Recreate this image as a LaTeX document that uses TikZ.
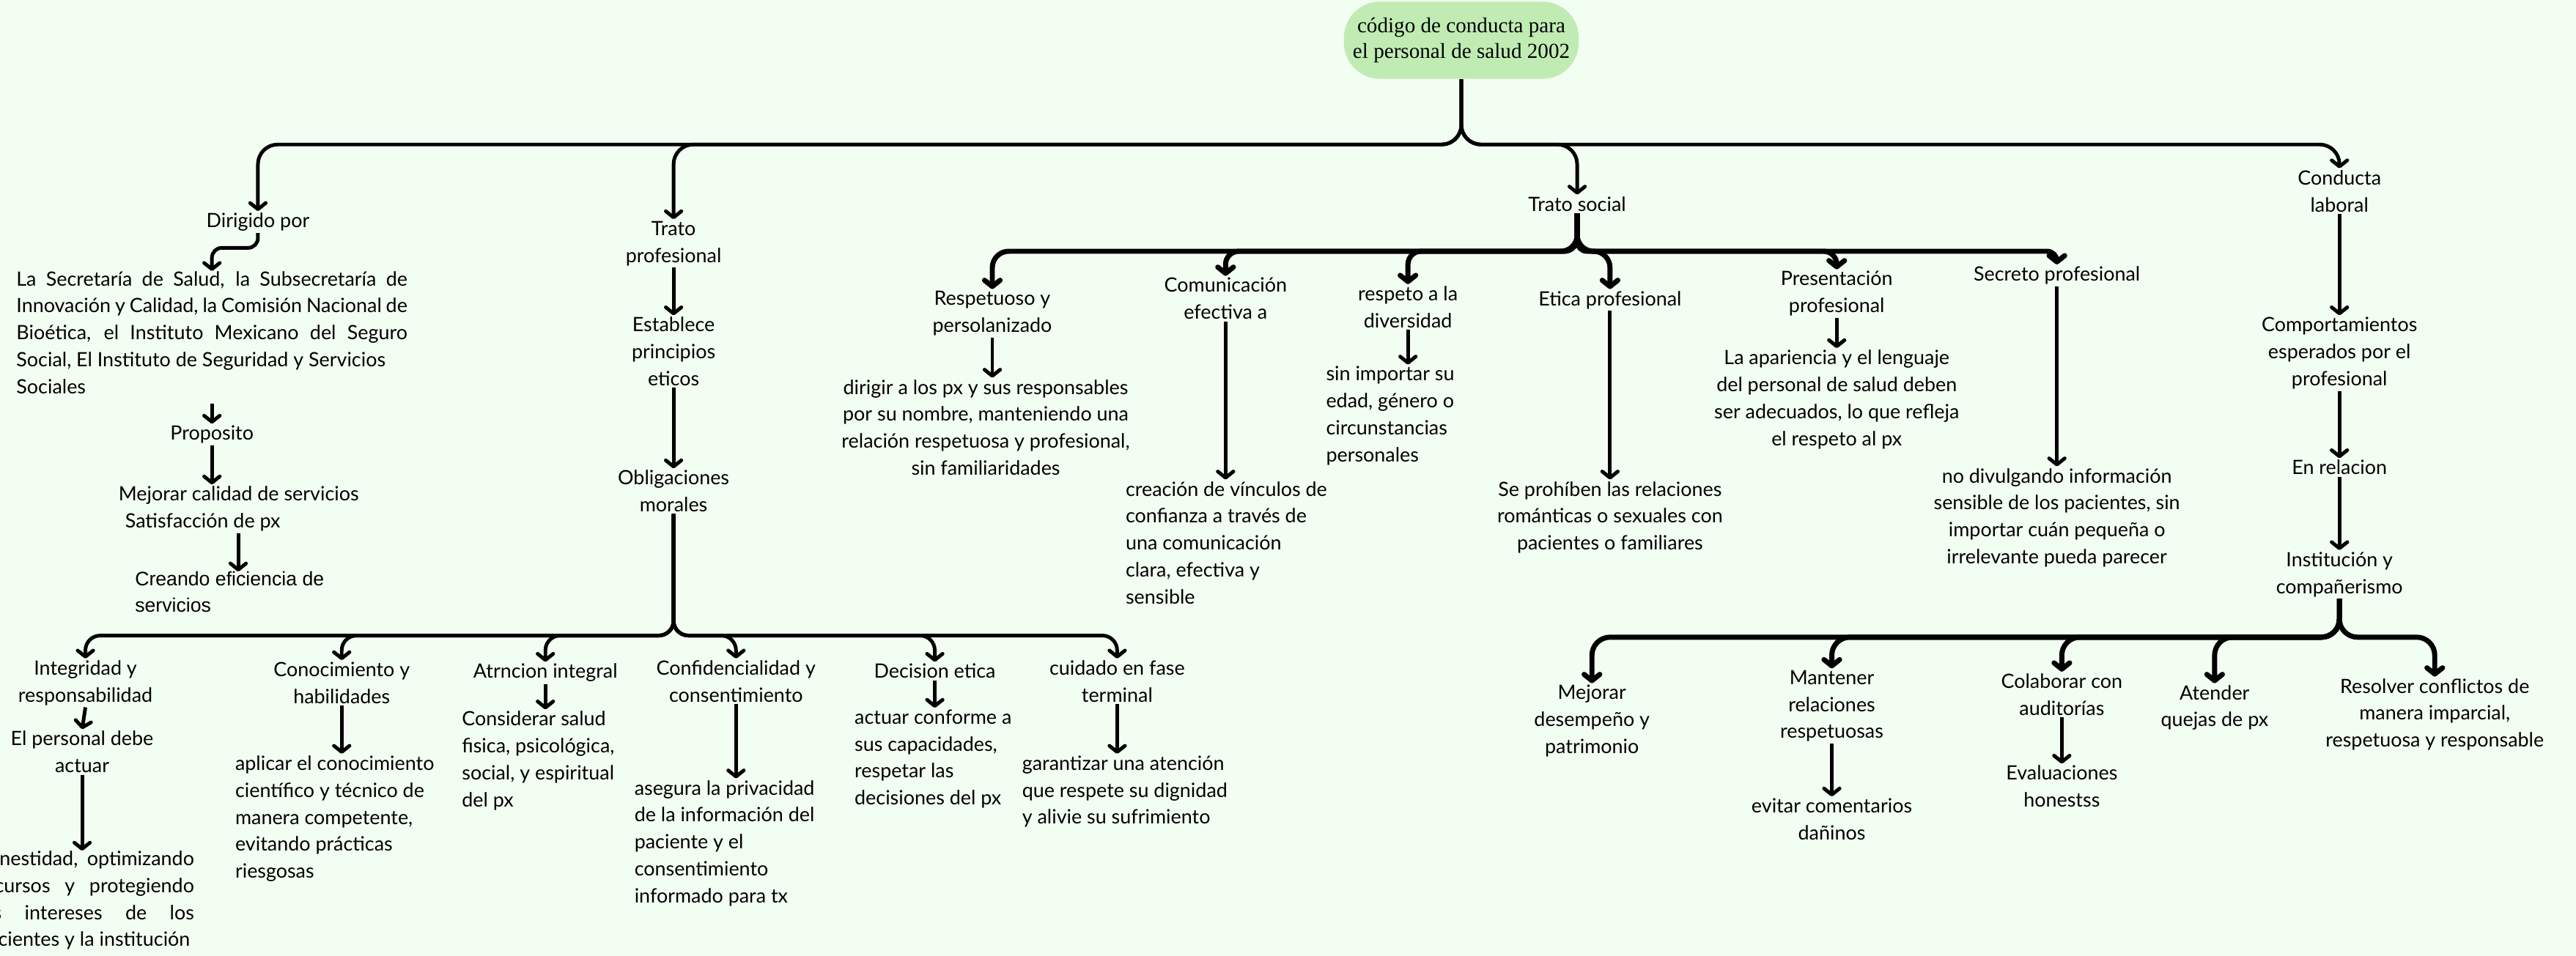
\documentclass[tikz,border=0pt]{standalone}
\usepackage{fontspec}
\setmainfont{Lato}
\newfontfamily\titlefont{Liberation Serif}
\newfontfamily\arialfont{Liberation Sans}
\usetikzlibrary{arrows.meta}
\definecolor{bgc}{HTML}{F3FEF2}
\definecolor{titlec}{HTML}{C0ECB3}
\newcommand\bodyf{\fontsize{12}{16.4}\selectfont}
\tikzset{
  lbl/.style={font=\bodyf, inner sep=1pt, align=center, anchor=north},
  lblock/.style={font=\bodyf, inner sep=1pt, align=left, anchor=north west},
  link/.style={line width=2.2pt, -{Straight Barb[length=3.8pt,width=9.5pt,round]}},
  thick link/.style={link, line width=3.1pt}
}
\begin{document}
\begin{tikzpicture}[x=1pt,y=-1pt]
\fill[bgc] (0,0) rectangle (1568,582);
\useasboundingbox (0,0) rectangle (1568,582);
\coordinate (h1) at (0,88);
\coordinate (h2) at (0,153);
\coordinate (h3) at (0,387);
\coordinate (h4) at (0,388);

% title
\node[fill=titlec, rounded corners=22pt, minimum width=143pt, minimum height=47pt,
      font=\titlefont\fontsize{13}{15.6}\selectfont, align=center, inner sep=0pt]
  (title) at (889.5,24.5) {código de conducta para\\el personal de salud 2002};

% level 1
\node[lbl] (dir) at (157,128.5) {Dirigido por};
\node[lbl] (tp) at (410,133.5) {Trato\\profesional};
\node[lbl] (ts) at (960,118.5) {Trato social};
\node[lbl] (cl) at (1424,102.5) {Conducta\\laboral};

\draw[link, rounded corners=12pt] (title.south) -- (title.south |- h1) -| (dir.north);
\draw[link, rounded corners=12pt] (title.south) -- (title.south |- h1) -| (tp.north);
\draw[link, rounded corners=12pt] (title.south) -- (title.south |- h1) -| (ts.north);
\draw[link, rounded corners=12pt] (title.south) -- (title.south |- h1) -| (cl.north);

% Dirigido por
\node[font=\bodyf, text width=238pt, align=justify, inner sep=0pt, anchor=north] (blk) at (129,165)
 {La Secretaría de Salud, la Subsecretaría de\linebreak Innovación y Calidad, la Comisión Nacional de\linebreak Bioética, el Instituto Mexicano del Seguro\linebreak Social, El Instituto de Seguridad y Servicios\\Sociales};
\draw[link, rounded corners=6pt] (dir.south) -- ++(0,9) -| (blk.north);
\node[lbl] (prop) at (129,258) {Proposito};
\draw[link] ([yshift=-6pt]blk.south) -- (prop.north);
\node[lblock] (mej) at (71,295) {Mejorar calidad de servicios\\\hspace*{4pt}Satisfacción de px};
\draw[link] (prop.south) -- (prop.south |- mej.north);
\node[font=\arialfont\fontsize{11.9}{15.8}\selectfont, align=left, inner sep=0pt, anchor=north west] (cre) at (82,348)
 {Creando eficiencia de\\servicios};
\coordinate (a1) at (145,0);
\draw[link] (mej.south -| a1) -- (cre.north -| a1);

% Trato profesional
\node[lbl] (est) at (410,192) {Establece\\principios\\eticos};
\node[lbl] (obl) at (410,285.2) {Obligaciones\\morales};
\draw[link] (tp.south) -- (est.north);
\draw[link] (est.south) -- (obl.north);

\node[lbl] (integ) at (52,401) {Integridad y\\responsabilidad};
\node[lbl] (conoc) at (208,402) {Conocimiento y\\habilidades};
\node[lbl] (atr) at (332,403) {Atrncion integral};
\node[lbl] (conf) at (448,401) {Confidencialidad y\\consentimiento};
\node[lbl] (dec) at (569,403) {Decision etica};
\node[lbl] (cuid) at (680,401) {cuidado en fase\\terminal};
\foreach \c in {integ,conoc,atr,conf,dec,cuid}
  \draw[link, rounded corners=9pt] (obl.south) -- (obl.south |- h3) -| (\c.north);

\node[lbl] (elp) at (50,444) {El personal debe\\actuar};
\draw[link] (integ.south) -- (elp.north);
\node[font=\bodyf, text width=132pt, align=justify, inner sep=0pt, anchor=north west] (hon) at (-14,518)
 {honestidad, optimizando\linebreak recursos y protegiendo\linebreak los intereses de los\linebreak pacientes y la institución};
\draw[link] (elp.south) -- (elp.south |- hon.north);

\node[lblock] (apl) at (142,459) {aplicar el conocimiento\\científico y técnico de\\manera competente,\\evitando prácticas\\riesgosas};
\draw[link] (conoc.south) -- (conoc.south |- apl.north);
\node[lblock] (csal) at (280,432) {Considerar salud\\fisica, psicológica,\\social, y espiritual\\del px};
\draw[link] (atr.south) -- (atr.south |- csal.north);
\node[lblock] (aseg) at (385,474) {asegura la privacidad\\de la información del\\paciente y el\\consentimiento\\informado para tx};
\draw[link] (conf.south) -- (conf.south |- aseg.north);
\node[lblock] (act) at (519,431) {actuar conforme a\\sus capacidades,\\respetar las\\decisiones del px};
\draw[link] (dec.south) -- (dec.south |- act.north);
\node[lblock] (gar) at (621,459) {garantizar una atención\\que respete su dignidad\\y alivie su sufrimiento};
\draw[link] (cuid.south) -- (cuid.south |- gar.north);

% Trato social
\node[lbl] (resp) at (604,176) {Respetuoso y\\persolanizado};
\node[lbl] (com) at (746,168) {Comunicación\\efectiva a};
\node[lbl] (div) at (857,173) {respeto a la\\diversidad};
\node[lbl] (eti) at (980,176) {Etica profesional};
\node[lbl] (pres) at (1118,164) {Presentación\\profesional};
\node[lbl] (sec) at (1252,161) {Secreto profesional};
\draw[thick link, rounded corners=10pt] (ts.south) -- (ts.south |- h2) -| (resp.north);
\draw[thick link, rounded corners=8pt] (ts.south) -- (ts.south |- h2) -| (com.north);
\draw[thick link, rounded corners=8pt] (ts.south) -- (ts.south |- h2) -| (div.north);
\draw[thick link, rounded corners=10pt] (ts.south) -- (ts.south |- h2) -| (eti.north);
\draw[thick link, rounded corners=8pt] (ts.south) -- (ts.south |- h2) -| (pres.north);
\draw[thick link, rounded corners=6pt] (ts.south) -- (ts.south |- h2) -| (sec.north);

\node[lbl] (dirg) at (600,230) {dirigir a los px y sus responsables\\por su nombre, manteniendo una\\relación respetuosa y profesional,\\sin familiaridades};
\draw[link] (resp.south) -- (resp.south |- dirg.north);
\node[lblock] (crea) at (684,292) {creación de vínculos de\\confianza a través de\\una comunicación\\clara, efectiva y\\sensible};
\draw[link] (com.south) -- (com.south |- crea.north);
\node[lblock] (sinimp) at (806,222) {sin importar su\\edad, género o\\circunstancias\\personales};
\draw[link] (div.south) -- (div.south |- sinimp.north);
\node[lbl] (proh) at (980,292) {Se prohíben las relaciones\\románticas o sexuales con\\pacientes o familiares};
\draw[link] (eti.south) -- (proh.north);
\node[lbl] (apar) at (1118,212) {La apariencia y el lenguaje\\del personal de salud deben\\ser adecuados, lo que refleja\\el respeto al px};
\draw[link] (pres.south) -- (apar.north);
\node[lbl] (divul) at (1252,284) {no divulgando información\\sensible de los pacientes, sin\\importar cuán pequeña o\\irrelevante pueda parecer};
\draw[link] (sec.south) -- (divul.north);

% Conducta laboral
\node[lbl] (comp) at (1424,192) {Comportamientos\\esperados por el\\profesional};
\node[lbl] (enrel) at (1424,279) {En relacion};
\node[lbl] (inst) at (1424,335) {Institución y\\compañerismo};
\draw[link] (cl.south) -- (comp.north);
\draw[link] (comp.south) -- (enrel.north);
\draw[link] (enrel.south) -- (inst.north);

\node[lbl] (mejd) at (969,416) {Mejorar\\desempeño y\\patrimonio};
\node[lbl] (mant) at (1115,407) {Mantener\\relaciones\\respetuosas};
\node[lbl] (colab) at (1255,409) {Colaborar con\\auditorías};
\node[lbl] (aten) at (1348,416) {Atender\\quejas de px};
\node[lbl] (resol) at (1482,412) {Resolver conflictos de\\manera imparcial,\\respetuosa y responsable};
\foreach \c in {mejd,mant,colab,aten,resol}
  \draw[thick link, rounded corners=11pt] (inst.south) -- (inst.south |- h4) -| (\c.north);

\node[lbl] (evit) at (1115,485) {evitar comentarios\\dañinos};
\draw[link] (mant.south) -- (evit.north);
\node[lbl] (evh) at (1255,465) {Evaluaciones\\honestss};
\draw[link] (colab.south) -- (evh.north);
\end{tikzpicture}
\end{document}
